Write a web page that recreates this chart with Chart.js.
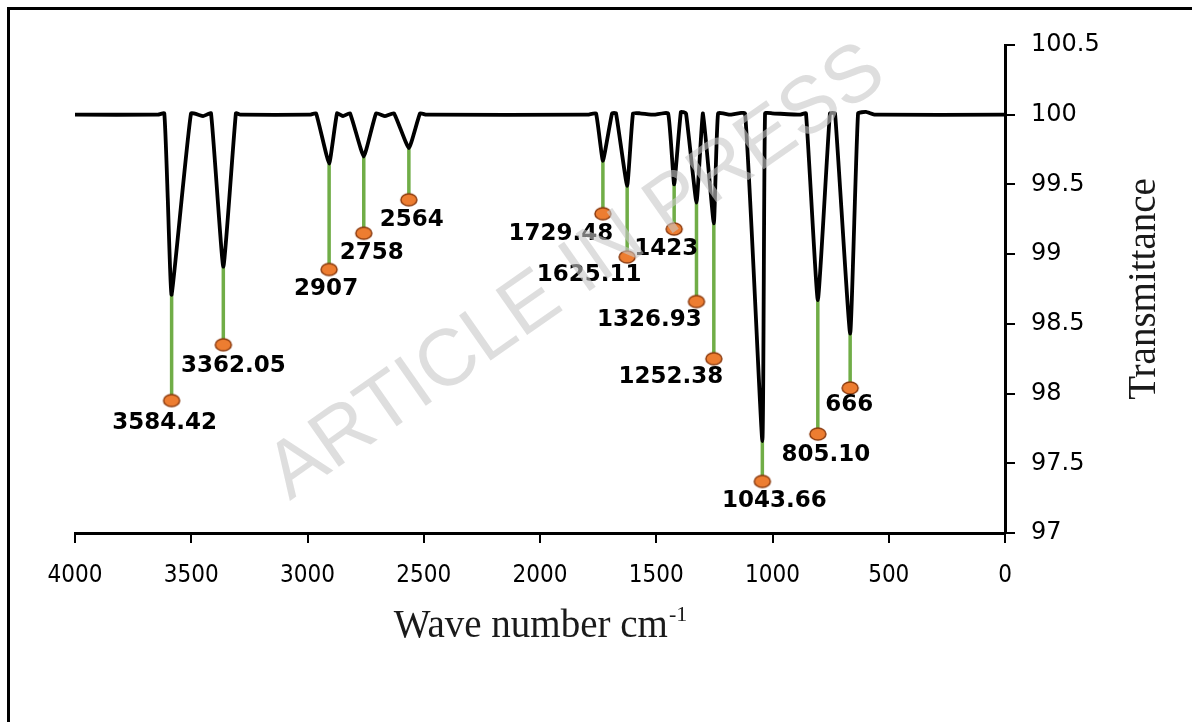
<!DOCTYPE html>
<html>
<head>
<meta charset="utf-8">
<script src="https://cdn.jsdelivr.net/npm/chart.js@4/dist/chart.umd.min.js"></script>
<style>
  html, body { margin: 0; padding: 0; background: #fff; }
  #wrap { position: relative; width: 1192px; height: 722px; overflow: hidden; }
  #frame { position: absolute; left: 7px; top: 7px; right: -10px; bottom: -10px;
           border-left: 3px solid #000; border-top: 3px solid #000; }
  #ftir { position: absolute; left: 0; top: 0; }
</style>
</head>
<body>
<div id="wrap">
  <div id="frame"></div>
  <canvas id="ftir" width="1192" height="722"></canvas>
</div>
<script>
// FT-IR spectrum
const spectrumWaveNumbers = [
  4000, 3643, 3616, 3601, 3584.42, 3501, 3449, 3415, 3362.05, 3308, 3290,
  2989, 2963, 2907, 2873, 2847, 2817, 2758, 2705, 2667, 2628, 2564, 2516, 2490,
  1794, 1759, 1729.48, 1690, 1673, 1625.11, 1600, 1570, 1510, 1449, 1423, 1394, 1372,
  1326.93, 1299, 1252.38, 1234, 1183, 1118, 1043.66, 1032, 1002, 882, 856, 805.10,
  753, 731, 666, 632, 598, 559, 0
];
const spectrumTransmittance = [
  100, 100, 100.01, 99.4, 98.71, 100.01, 99.99, 100.01, 98.91, 100.01, 100,
  100, 100.01, 99.65, 100.01, 99.99, 100.01, 99.70, 100.01, 99.99, 100.01, 99.76, 100.01, 100,
  100, 100.01, 99.67, 100.01, 100.01, 99.49, 100.01, 100.01, 100, 100.01, 99.50, 100.02, 100.01,
  99.37, 100.01, 99.22, 100.01, 100, 100.01, 97.66, 100.01, 100.01, 100, 100.01, 98.67,
  100.01, 100.01, 98.43, 100.01, 100.02, 100, 100
];

// annotated peaks
const peakLabels = ["3584.42", "3362.05", "2907", "2758", "2564", "1729.48", "1625.11",
                    "1423", "1326.93", "1252.38", "1043.66", "805.10", "666"];
const peakWaveNumbers = [3584.42, 3362.05, 2907, 2758, 2564, 1729.48, 1625.11,
                         1423, 1326.93, 1252.38, 1043.66, 805.10, 666];
const peakMinima = [98.71, 98.91, 99.65, 99.70, 99.76, 99.67, 99.49,
                    99.50, 99.37, 99.22, 97.66, 98.67, 98.43];
const markerLevels = [97.95, 98.35, 98.89, 99.15, 99.39, 99.29, 98.98,
                      99.18, 98.66, 98.25, 97.37, 97.71, 98.04];

const xTickValues = [4000, 3500, 3000, 2500, 2000, 1500, 1000, 500, 0];
const yTickValues = [97, 97.5, 98, 98.5, 99, 99.5, 100, 100.5];

// label placement relative to the marker (px)
const labelOffsets = [[-7, 22], [10, 21], [-3, 20], [8, 20], [3, 20], [-42, 20], [-38, 18],
                      [-8, 20], [-47, 18], [-43, 18], [12, 20], [8, 21], [-1, 17]];

/* ---- orange ellipse marker ---- */
const markerImg = document.createElement("canvas");
markerImg.width = 20;
markerImg.height = 16;
const m = markerImg.getContext("2d");
m.beginPath();
m.ellipse(10, 8, 8, 6, 0, 0, Math.PI * 2);
m.fillStyle = "#ED7D31";
m.fill();
m.lineWidth = 1.5;
m.strokeStyle = "#8B3A0E";
m.stroke();

const spectrum = spectrumWaveNumbers.map((x, i) => ({ x: x, y: spectrumTransmittance[i] }));
const drops = [];
peakWaveNumbers.forEach((x, i) => {
  drops.push({ x: x, y: peakMinima[i] }, { x: x, y: markerLevels[i] }, { x: x, y: null });
});
const markers = peakWaveNumbers.map((x, i) => ({ x: x, y: markerLevels[i] }));

const peakText = {
  id: "peakText",
  afterDatasetsDraw(chart) {
    const { ctx, scales: { x, y } } = chart;
    ctx.save();
    ctx.font = 'bold 23px "DejaVu Sans"';
    ctx.fillStyle = "#000";
    ctx.textAlign = "center";
    ctx.textBaseline = "middle";
    peakLabels.forEach((t, i) => {
      const px = x.getPixelForValue(peakWaveNumbers[i]) + labelOffsets[i][0];
      const py = y.getPixelForValue(markerLevels[i]) + labelOffsets[i][1];
      ctx.fillText(t, px, py);
    });
    ctx.restore();
  }
};

const titlesAndMark = {
  id: "titlesAndMark",
  afterDraw(chart) {
    const { ctx, chartArea } = chart;
    ctx.save();
    ctx.fillStyle = "#1a1a1a";
    // x title with superscript
    ctx.font = '39px "Liberation Serif"';
    ctx.textBaseline = "alphabetic";
    ctx.textAlign = "left";
    const main = "Wave number cm";
    const w = ctx.measureText(main).width;
    ctx.font = '22px "Liberation Serif"';
    const sw = ctx.measureText("-1").width;
    const startX = (chartArea.left + chartArea.right) / 2 - (w + sw) / 2;
    ctx.font = '39px "Liberation Serif"';
    ctx.fillText(main, startX, 637);
    ctx.font = '22px "Liberation Serif"';
    ctx.fillText("-1", startX + w + 1, 621);
    // y title
    ctx.translate(1155, (chartArea.top + chartArea.bottom) / 2);
    ctx.rotate(-Math.PI / 2);
    ctx.textAlign = "center";
    ctx.font = '39px "Liberation Serif"';
    ctx.fillText("Transmittance", 0, 0);
    ctx.restore();

    // watermark
    ctx.save();
    ctx.translate(577, 273);
    ctx.rotate(-35 * Math.PI / 180);
    ctx.font = '80px "Liberation Sans"';
    ctx.fillStyle = "rgba(200,200,200,0.6)";
    ctx.textAlign = "center";
    ctx.textBaseline = "middle";
    ctx.fillText("ARTICLE IN PRESS", 0, 0);
    ctx.restore();
  }
};

new Chart(document.getElementById("ftir"), {
  type: "line",
  data: {
    datasets: [
      {
        label: "spectrum",
        data: spectrum,
        borderColor: "#000",
        borderWidth: 3.8,
        pointRadius: 0,
        tension: 0.12,
        order: 1
      },
      {
        label: "drops",
        data: drops,
        borderColor: "#70AD47",
        borderWidth: 3.5,
        pointRadius: 0,
        tension: 0,
        spanGaps: false,
        order: 2
      },
      {
        label: "peaks",
        data: markers,
        showLine: false,
        pointStyle: markerImg,
        pointRadius: 8,
        order: 0
      }
    ]
  },
  options: {
    responsive: false,
    animation: false,
    devicePixelRatio: 1,
    layout: { padding: { left: 75, top: 45, right: 0, bottom: 0 } },
    plugins: { legend: { display: false }, tooltip: { enabled: false } },
    scales: {
      x: {
        type: "linear",
        position: "bottom",
        reverse: true,
        min: 0,
        max: 4000,
        afterBuildTicks: (s) => { s.ticks = xTickValues.map(v => ({ value: v })); },
        afterFit: (s) => { s.height = 189; },
        ticks: {
          color: "#000",
          padding: 18,
          maxRotation: 0,
          callback: (v) => String(v),
          font: { family: '"DejaVu Sans Condensed", "DejaVu Sans"', size: 24 }
        },
        grid: { drawOnChartArea: false, drawTicks: true, tickLength: 10, color: "#000", lineWidth: 2 },
        border: { display: true, color: "#000", width: 3 }
      },
      y: {
        type: "linear",
        position: "right",
        min: 97,
        max: 100.5,
        afterBuildTicks: (s) => { s.ticks = yTickValues.map(v => ({ value: v })); },
        afterFit: (s) => { s.width = 187; },
        ticks: {
          color: "#000",
          padding: 16,
          callback: (v) => String(v),
          font: { family: '"DejaVu Sans"', size: 24 }
        },
        grid: { drawOnChartArea: false, drawTicks: true, tickLength: 10, color: "#000", lineWidth: 2 },
        border: { display: true, color: "#000", width: 3 }
      }
    }
  },
  plugins: [peakText, titlesAndMark]
});
</script>
</body>
</html>
